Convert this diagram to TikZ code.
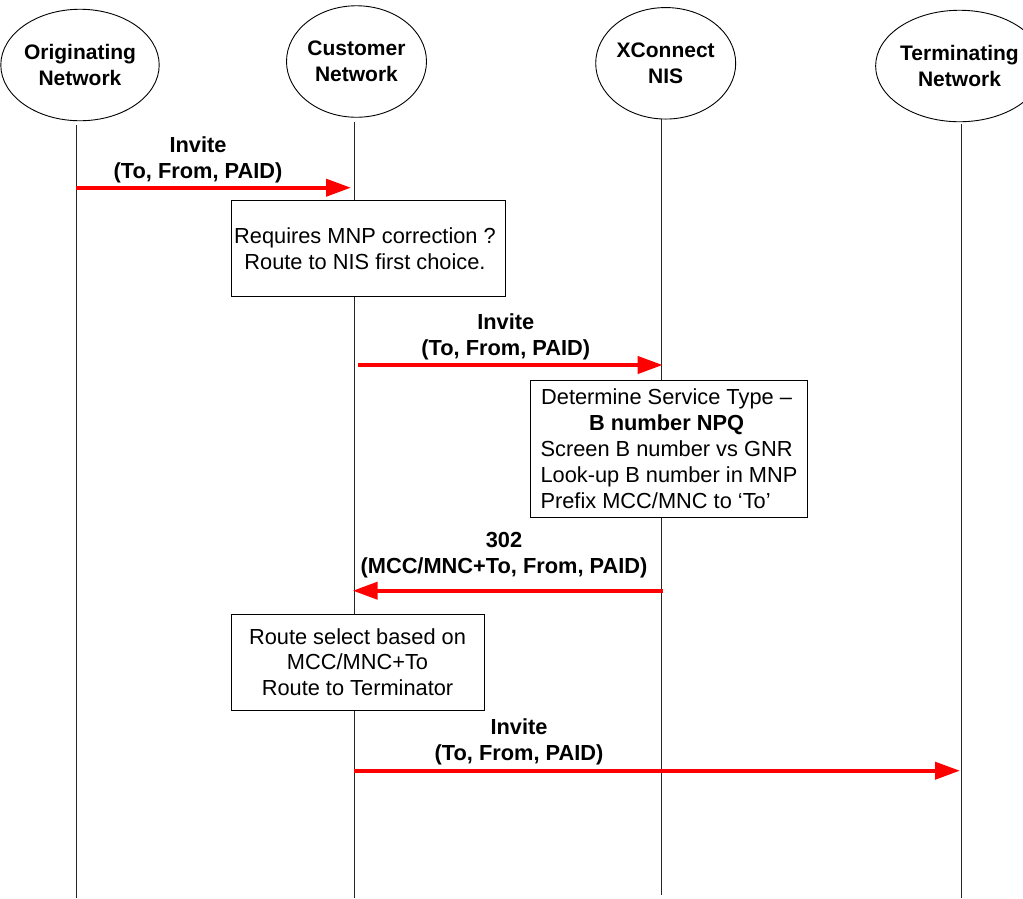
\documentclass[tikz,border=0pt]{standalone}
\usepackage{fontspec}
\setmainfont{Liberation Sans}
\usetikzlibrary{shapes.geometric,arrows.meta}
\begin{document}
\begin{tikzpicture}[x=1pt,y=-1pt,
  every node/.style={inner sep=0pt, font=\fontsize{21.8}{25.8}\selectfont},
  party/.style={draw=black, line width=0.9pt, ellipse, minimum width=140pt, minimum height=111.5pt, align=center, font=\fontsize{21}{25.5}\selectfont\bfseries},
  life/.style={draw=black!85, line width=1pt},
  msg/.style={draw=red, line width=4pt, -{Triangle[length=25pt,width=17pt]}},
  lbl/.style={align=center, font=\fontsize{21.8}{26}\selectfont\bfseries},
  note/.style={draw=black, line width=1pt, fill=white, align=center}]

\useasboundingbox (0,0) rectangle (1023,898);

% parties
\node[party] (orig) at (80,65) {Originating\\Network};
\node[party] (cust) at (356.5,61.5) {Customer\\Network};
\node[party] (xc) at (665.7,63.3) {XConnect\\NIS};
\node[party] (term) at (959.5,66) {Terminating\\Network};

% lifelines
\coordinate (oT) at (76,125);    \coordinate (oB) at (76,898);
\coordinate (cT) at (354,122);   \coordinate (cB) at (354,898);
\coordinate (xT) at (661.7,119); \coordinate (xB) at (661.7,895);
\coordinate (tT) at (961,124);   \coordinate (tB) at (961,898);
\draw[life] (oT) -- (oB);
\draw[life] (cT) -- (cB);
\draw[life] (xT) -- (xB);
\draw[life] (tT) -- (tB);

% notes
\node[note, minimum width=274pt, minimum height=96.5pt] (b1) at (368,248.5)
  {Requires MNP correction ?\hspace*{6pt}\\Route to NIS first choice.\hspace*{6pt}};
\node[note, minimum width=276.6pt, minimum height=137.3pt, align=left] (b2) at (669,448.7)
  {\makebox[252pt]{Determine Service Type –}\\
   \makebox[252pt]{\bfseries B number NPQ}\\
   Screen B number vs GNR\\
   Look-up B number in MNP\\
   Prefix MCC/MNC to ‘To’};
\node[note, minimum width=253pt, minimum height=96pt] (b3) at (357.5,662)
  {Route select based on\\MCC/MNC+To\\Route to Terminator};

% messages
\coordinate (a1s) at (76,187.7);    \coordinate (a1e) at (351,187.7);
\coordinate (a2s) at (358,365);     \coordinate (a2e) at (662.7,365);
\coordinate (a3s) at (662.7,590.7); \coordinate (a3e) at (352.7,590.7);
\coordinate (a4s) at (354,770.7);   \coordinate (a4e) at (960,770.7);
\draw[msg] (a1s) -- (a1e);
\draw[msg] (a2s) -- (a2e);
\draw[msg] (a3s) -- (a3e);
\draw[msg] (a4s) -- (a4e);

% labels
\node[lbl] (l1) at (198,160.3) {Invite\\(To, From, PAID)};
\node[lbl] (l2) at (505.8,336.8) {Invite\\(To, From, PAID)};
\node[lbl] (l3) at (504,555) {302\\(MCC/MNC+To, From, PAID)};
\node[lbl] (l4) at (519,741.8) {Invite\\(To, From, PAID)};
\end{tikzpicture}
\end{document}
